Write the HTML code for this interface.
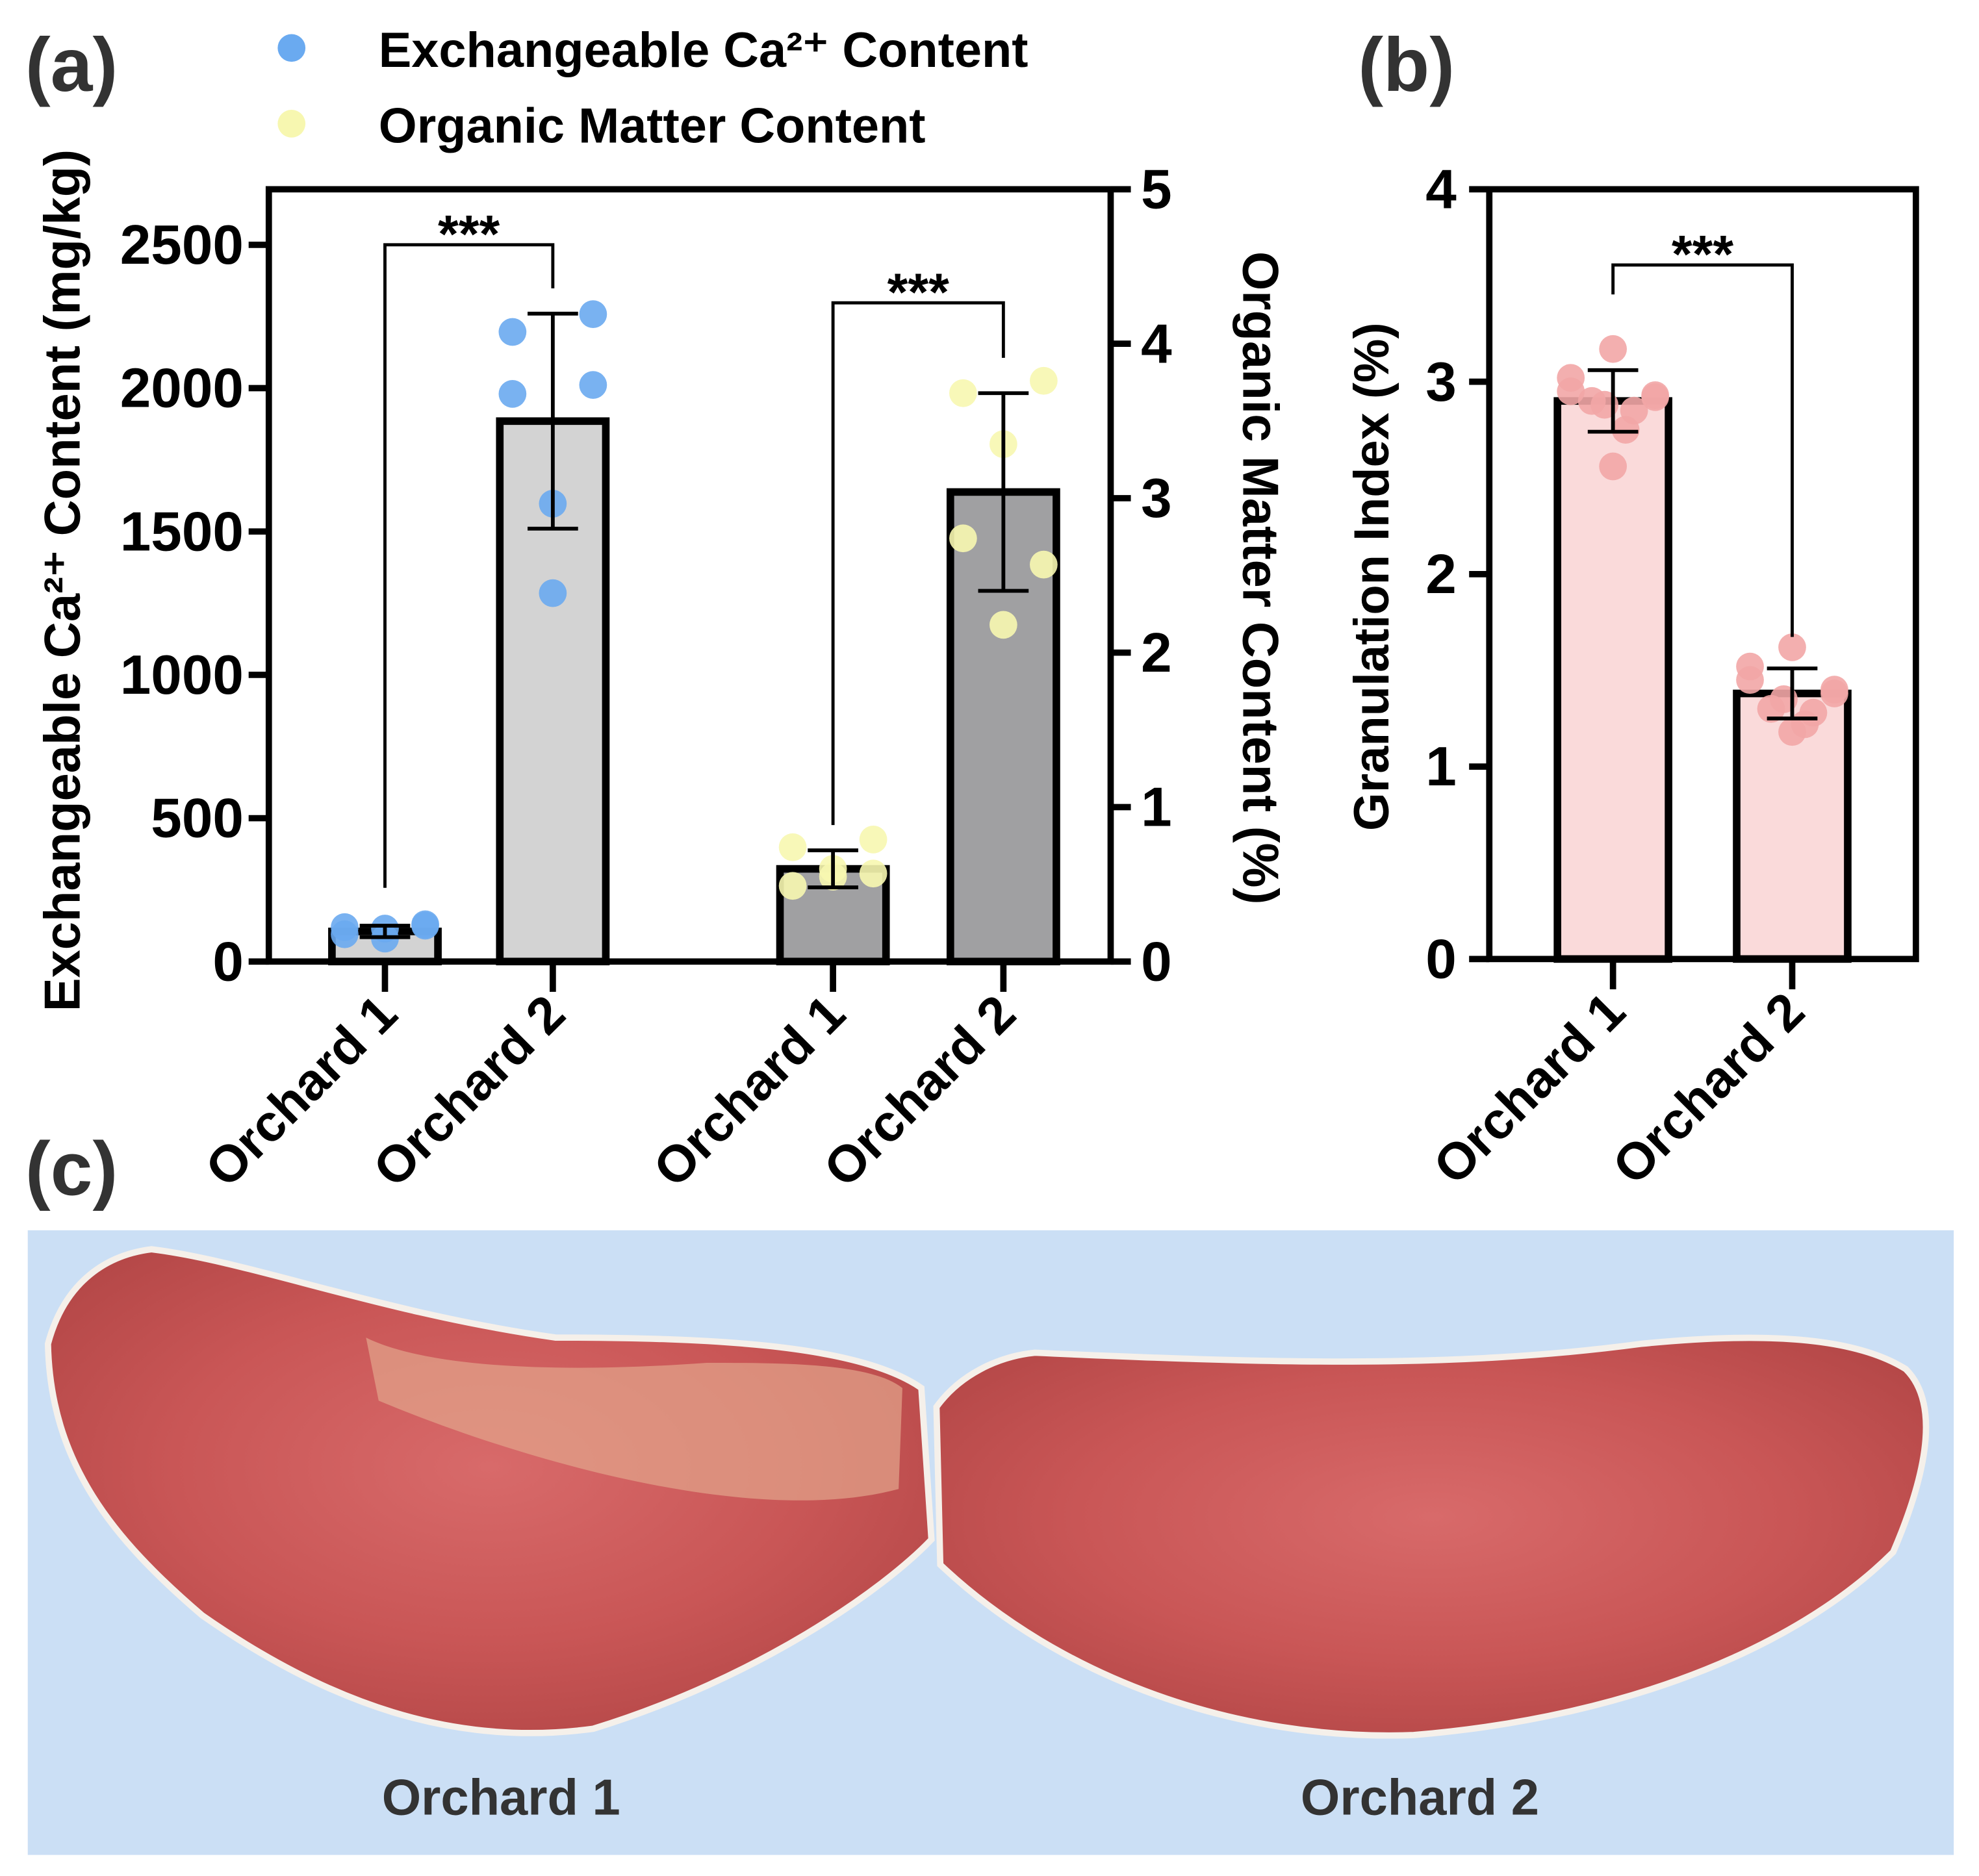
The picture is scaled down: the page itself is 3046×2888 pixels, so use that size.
<!DOCTYPE html>
<html><head><meta charset="utf-8"><style>
html,body{margin:0;padding:0;background:#fff}
svg{display:block}
text{font-family:"Liberation Sans",sans-serif;font-weight:bold}
</style></head><body>
<svg id="fig" width="3046" height="2888" viewBox="0 0 1568 1486.7" preserveAspectRatio="none" xmlns="http://www.w3.org/2000/svg">
<defs>
<radialGradient id="flesh" cx="50%" cy="45%" r="60%">
<stop offset="0" stop-color="#d86a6a"/><stop offset="0.6" stop-color="#c95656"/><stop offset="1" stop-color="#b54848"/>
</radialGradient>
</defs>
<g id="panelA"></g>
<g id="panelB"></g>
<g id="panelC">
<rect x="22" y="975" width="1526" height="495" fill="#cbdff5"/>
<path d="M38,1065 C50,1020 80,995 120,990 C200,1000 300,1040 440,1060 C560,1060 680,1065 730,1100 L738,1220 C700,1260 600,1330 470,1370 C360,1385 260,1350 160,1280 C90,1220 40,1160 38,1065 Z" fill="url(#flesh)" stroke="#f5f0ea" stroke-width="5"/>
<path d="M290,1060 C330,1080 420,1090 560,1080 C620,1080 690,1080 715,1100 L712,1180 C600,1210 420,1160 300,1110 Z" fill="#e3a58c" opacity="0.7"/>
<path d="M742,1115 C760,1090 790,1075 820,1072 C1000,1080 1150,1085 1300,1065 C1400,1055 1470,1060 1510,1085 C1535,1110 1530,1160 1500,1230 C1430,1300 1300,1360 1120,1375 C980,1380 840,1330 745,1240 Z" fill="url(#flesh)" stroke="#f5f0ea" stroke-width="5"/>
<text x="397" y="1438" font-size="40" fill="#333" text-anchor="middle">Orchard 1</text>
<text x="1125" y="1438" font-size="40" fill="#333" text-anchor="middle">Orchard 2</text>
</g>
<text x="20" y="72" font-size="60" fill="#333">(a)</text>
<text x="1076" y="72" font-size="60" fill="#333">(b)</text>
<text x="20" y="947" font-size="60" fill="#333">(c)</text>
<g>
<circle cx="231" cy="38" r="11" fill="#6aaaf0"/>
<text x="300" y="53" font-size="39">Exchangeable Ca²⁺ Content</text>
<circle cx="231" cy="98" r="11" fill="#f7f7b0"/>
<text x="300" y="113" font-size="39">Organic Matter Content</text>
</g>
</svg>
<script>
const caCategories=["Orchard 1","Orchard 2"];
const caMeans=[105,1885];
const caSD=[20,375];
const caPoints=[[95,130,120,125,80,115],[2196,2258,1980,2011,1597,1285]];
const omCategories=["Orchard 1","Orchard 2"];
const omMeans=[0.6,3.04];
const omSD=[0.12,0.64];
const omPoints=[[0.74,0.79,0.49,0.57,0.6,0.55],[3.68,3.76,2.74,2.57,3.35,2.18]];
const leftTicks=[0,500,1000,1500,2000,2500];
const rightTicks=[0,1,2,3,4,5];
const giCategories=["Orchard 1","Orchard 2"];
const giMeans=[2.9,1.38];
const giSD=[0.16,0.13];
const giPoints=[[2.95,2.93,3.02,2.92,2.56,3.17,2.9,2.85,2.88,2.75],[1.45,1.38,1.52,1.4,1.18,1.62,1.3,1.28,1.35,1.22]];
const giTicks=[0,1,2,3,4];

const NS="http://www.w3.org/2000/svg";
function mk(parent,tag,attrs){const e=document.createElementNS(NS,tag);for(const k in attrs)e.setAttribute(k,attrs[k]);parent.appendChild(e);return e;}
const A=document.getElementById('panelA'), B=document.getElementById('panelB');

const ax0=213,ax1=880,ay0=150,ay1=762;
const yL=v=>ay1-v*(ay1-194)/2500;
const yR=v=>ay1-v*(ay1-ay0)/5;
const xA=[305,438,660,795];
const bw=84;
let fr=mk(A,'rect',{x:ax0,y:ay0,width:ax1-ax0,height:ay1-ay0,fill:'none',stroke:'#000','stroke-width':5});

leftTicks.forEach(t=>{const y=yL(t);
 let l=mk(A,'line',{x1:ax0-16,x2:ax0,y1:y,y2:y,stroke:'#000','stroke-width':5});
 
 let tx=mk(A,'text',{x:ax0-20,y:y+15,'font-size':44,'text-anchor':'end'});tx.textContent=t;
 });
rightTicks.forEach(t=>{const y=yR(t);
 let l=mk(A,'line',{x1:ax1,x2:ax1+16,y1:y,y2:y,stroke:'#000','stroke-width':5});
 
 let tx=mk(A,'text',{x:ax1+24,y:y+15,'font-size':44});tx.textContent=t;
 });
let t1=mk(A,'text',{x:0,y:0,'font-size':40,'text-anchor':'middle',transform:'translate(63,460) rotate(-90)'});t1.textContent='Exchangeable Ca²⁺ Content (mg/kg)';

let t2=mk(A,'text',{x:0,y:0,'font-size':40,'text-anchor':'middle',transform:'translate(985,458) rotate(90)'});t2.textContent='Organic Matter Content (%)';


function drawGroup(P,cx,mean,sd,pts,yf,fill,dot,name,base,bwid){
 const top=yf(mean);
 let r=mk(P,'rect',{x:cx-bwid/2,y:top,width:bwid,height:base-top,fill:fill,stroke:'#000','stroke-width':6});
 
 const offs=[-1,1,-1,1,0,0,-0.5,0.5,-0.2,0.3];
 pts.forEach((v,i)=>{let c=mk(P,'circle',{cx:cx+offs[i%offs.length]*bwid*0.38,cy:yf(v),r:11,fill:dot,opacity:0.9});
  });
 const hi=yf(mean+sd),lo=yf(mean-sd);
 let e=mk(P,'path',{d:`M${cx},${hi}V${lo}M${cx-20},${hi}H${cx+20}M${cx-20},${lo}H${cx+20}`,stroke:'#000','stroke-width':3,fill:'none'});
 
}
drawGroup(A,xA[0],caMeans[0],caSD[0],caPoints[0],yL,'#d3d3d3','#6aaaf0','calcium-orchard-1',ay1,bw);
drawGroup(A,xA[1],caMeans[1],caSD[1],caPoints[1],yL,'#d3d3d3','#6aaaf0','calcium-orchard-2',ay1,bw);
drawGroup(A,xA[2],omMeans[0],omSD[0],omPoints[0],yR,'#a0a0a2','#f7f7b0','organic-orchard-1',ay1,bw);
drawGroup(A,xA[3],omMeans[1],omSD[1],omPoints[1],yR,'#a0a0a2','#f7f7b0','organic-orchard-2',ay1,bw);
const labsA=[caCategories[0],caCategories[1],omCategories[0],omCategories[1]];
xA.forEach((x,i)=>{let l=mk(A,'line',{x1:x,x2:x,y1:ay1,y2:ay1+24,stroke:'#000','stroke-width':5});
 
 let t=mk(A,'text',{x:0,y:0,'font-size':41,'text-anchor':'end',transform:`translate(${x+12},${ay1+44}) rotate(-45)`});t.textContent=labsA[i];
 });
function sig(P,x1,x2,yt,y1,y2,name){
 let p=mk(P,'path',{d:`M${x1},${y1}V${yt}H${x2}V${y2}`,stroke:'#000','stroke-width':2.5,fill:'none'});
 
 let t=mk(P,'text',{x:(x1+x2)/2,y:yt+6,'font-size':42,'text-anchor':'middle'});t.textContent='***';
 }
sig(A,xA[0],xA[1],194,yL(caMeans[0]+caSD[0])-30,yL(caMeans[1]+caSD[1])-20,'significance-bracket-calcium');
sig(A,xA[2],xA[3],240,yR(omMeans[0]+omSD[0])-20,yR(omMeans[1]+omSD[1])-28,'significance-bracket-organic');

const bx0=1180,bx1=1518,by0=150,by1=760;
const yB=v=>by1-v*(by1-by0)/4;
const xB=[1278,1420];
let fb=mk(B,'rect',{x:bx0,y:by0,width:bx1-bx0,height:by1-by0,fill:'none',stroke:'#000','stroke-width':5});

giTicks.forEach(t=>{const y=yB(t);
 let l=mk(B,'line',{x1:bx0-16,x2:bx0,y1:y,y2:y,stroke:'#000','stroke-width':5});
 
 let tx=mk(B,'text',{x:bx0-26,y:y+15,'font-size':44,'text-anchor':'end'});tx.textContent=t;
 });
let t3=mk(B,'text',{x:0,y:0,'font-size':39,'text-anchor':'middle',transform:'translate(1100,457) rotate(-90)'});t3.textContent='Granulation Index (%)';

giMeans.forEach((m,i)=>drawGroup(B,xB[i],m,giSD[i],giPoints[i],yB,'#fadada','#f2a6a6','granulation-orchard-'+(i+1),by1,88));
xB.forEach((x,i)=>{let l=mk(B,'line',{x1:x,x2:x,y1:by1,y2:by1+24,stroke:'#000','stroke-width':5});
 
 let t=mk(B,'text',{x:0,y:0,'font-size':41,'text-anchor':'end',transform:`translate(${x+12},${by1+44}) rotate(-45)`});t.textContent=giCategories[i];
 });
sig(B,xB[0],xB[1],210,yB(giMeans[0]+giSD[0])-60,yB(giMeans[1]+giSD[1])-25,'significance-bracket-granulation');
</script>
</body></html>
